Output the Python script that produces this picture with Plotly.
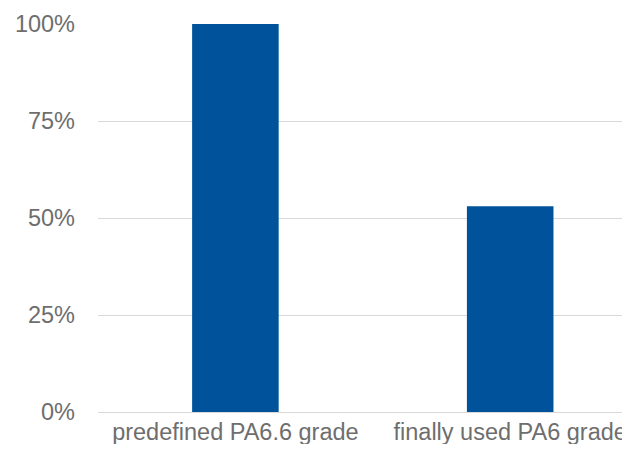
import plotly.graph_objects as go

categories = ['predefined PA6.6 grade', 'finally used PA6 grade']
values = [100, 53]
y_ticks = [0, 25, 50, 75, 100]
y_tick_labels = ['0%', '25%', '50%', '75%', '100%']

fig = go.Figure(data=[
    go.Bar(x=[0, 1], y=values, width=0.315, marker_color='#00539B',
           marker_line_width=0)
])

# page body has an 8px margin: figure is kept small enough to avoid scrollbars
fig.update_layout(
    width=622,
    height=436,
    margin=dict(l=90, r=0, t=16, b=32),
    plot_bgcolor='white',
    paper_bgcolor='white',
    font=dict(family='Liberation Sans, Arial, sans-serif', size=23.5,
              color='#6e6e6e'),
    showlegend=False,
)

fig.update_xaxes(
    range=[-0.5, 1.436],
    tickmode='array',
    tickvals=[0, 1],
    ticktext=categories,
    showgrid=False,
    showline=False,
    zeroline=False,
    ticks='',
    ticklabelstandoff=3,
)

fig.update_yaxes(
    range=[0, 100],
    tickmode='array',
    tickvals=y_ticks,
    ticktext=y_tick_labels,
    showgrid=True,
    gridcolor='#d9d9d9',
    gridwidth=1,
    zeroline=True,
    zerolinecolor='#d9d9d9',
    zerolinewidth=1,
    showline=False,
    ticks='',
    ticklabelstandoff=22,
)

fig.write_html("out.html")
